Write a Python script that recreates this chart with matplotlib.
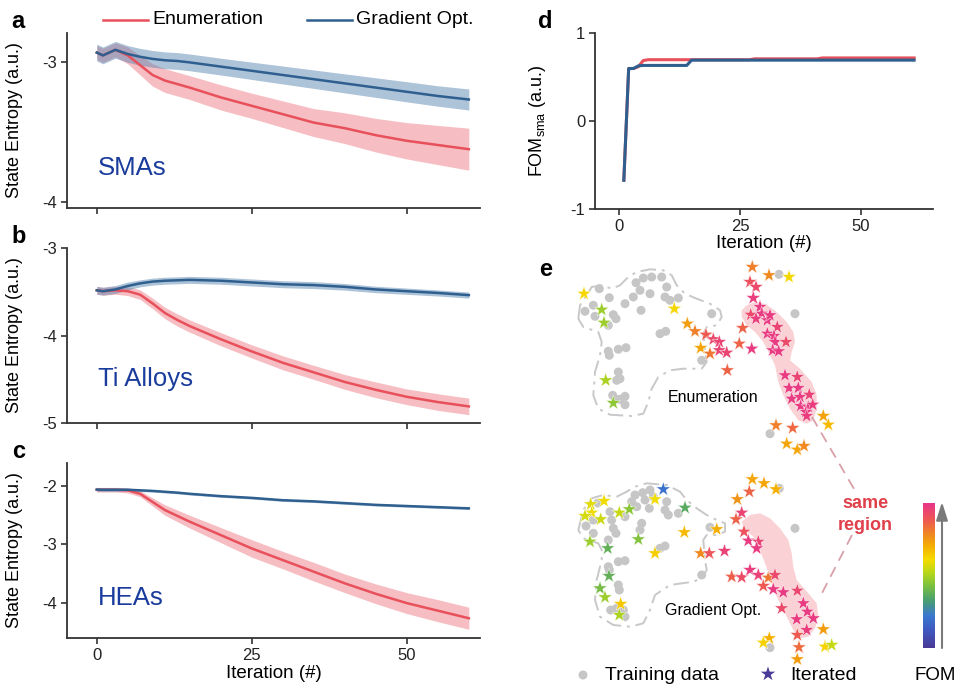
import numpy as np
import matplotlib
matplotlib.use("Agg")
import matplotlib.pyplot as plt
from matplotlib.colors import LinearSegmentedColormap
from matplotlib.lines import Line2D
from matplotlib.patches import Polygon

plt.rcParams['font.family'] = ['Liberation Sans', 'DejaVu Sans']
plt.rcParams['axes.unicode_minus'] = False

# ---------------- data: panels a-c ----------------
iters = [0, 1, 3, 5, 7, 9, 11, 13, 15, 20, 25, 30, 35, 40, 45, 50, 55, 60]

sma_grad = [-2.93, -2.95, -2.91, -2.94, -2.96, -2.975, -2.985, -2.99, -3.0, -3.03, -3.06, -3.09, -3.12, -3.15, -3.18, -3.21, -3.24, -3.265]
sma_grad_sd = [0.06, 0.06, 0.06, 0.06, 0.06, 0.06, 0.06, 0.06, 0.06, 0.06, 0.062, 0.064, 0.066, 0.068, 0.07, 0.072, 0.073, 0.075]
sma_enum = [-2.93, -2.95, -2.91, -2.95, -3.02, -3.09, -3.13, -3.155, -3.18, -3.25, -3.31, -3.37, -3.43, -3.47, -3.52, -3.56, -3.59, -3.62]
sma_enum_sd = [0.05, 0.05, 0.05, 0.06, 0.07, 0.08, 0.085, 0.085, 0.085, 0.09, 0.09, 0.095, 0.10, 0.11, 0.12, 0.13, 0.14, 0.15]

ti_grad = [-3.48, -3.49, -3.47, -3.43, -3.40, -3.38, -3.37, -3.365, -3.36, -3.37, -3.39, -3.41, -3.42, -3.44, -3.47, -3.49, -3.51, -3.535]
ti_grad_sd = [0.045, 0.045, 0.045, 0.045, 0.04, 0.04, 0.04, 0.04, 0.04, 0.04, 0.04, 0.04, 0.04, 0.038, 0.037, 0.036, 0.035, 0.035]
ti_enum = [-3.48, -3.49, -3.48, -3.49, -3.53, -3.63, -3.74, -3.82, -3.89, -4.04, -4.18, -4.31, -4.42, -4.53, -4.62, -4.70, -4.76, -4.81]
ti_enum_sd = [0.045, 0.045, 0.045, 0.05, 0.055, 0.06, 0.065, 0.07, 0.07, 0.075, 0.075, 0.08, 0.08, 0.085, 0.09, 0.09, 0.095, 0.095]

hea_grad = [-2.057, -2.06, -2.06, -2.06, -2.07, -2.08, -2.095, -2.11, -2.13, -2.17, -2.20, -2.24, -2.26, -2.29, -2.32, -2.34, -2.36, -2.38]
hea_grad_sd = [0.03, 0.03, 0.03, 0.025, 0.022, 0.02, 0.02, 0.02, 0.02, 0.02, 0.02, 0.02, 0.02, 0.02, 0.02, 0.02, 0.02, 0.02]
hea_enum = [-2.06, -2.06, -2.06, -2.07, -2.13, -2.27, -2.41, -2.51, -2.61, -2.84, -3.07, -3.27, -3.47, -3.67, -3.85, -4.01, -4.14, -4.27]
hea_enum_sd = [0.04, 0.04, 0.04, 0.045, 0.05, 0.07, 0.09, 0.10, 0.11, 0.13, 0.15, 0.15, 0.16, 0.16, 0.17, 0.18, 0.19, 0.19]

panel_names = ['SMAs', 'Ti Alloys', 'HEAs']
panel_yticks = [[-3, -4], [-3, -4, -5], [-2, -3, -4]]
panel_ylims = [(-4.04, -2.79), (-5.0, -2.995), (-4.61, -1.6)]
xticks_iter = [0, 25, 50]

# ---------------- data: panel d ----------------
d_enum_x = [1, 2, 3, 4, 5, 6, 27, 28, 41, 42, 61]
d_enum_y = [-0.67, 0.60, 0.60, 0.62, 0.69, 0.70, 0.70, 0.71, 0.71, 0.72, 0.72]
d_grad_x = [1, 2, 3, 4, 5, 14, 15, 61]
d_grad_y = [-0.67, 0.60, 0.60, 0.63, 0.635, 0.635, 0.695, 0.695]

# ---------------- data: panel e (map coordinates) ----------------
enum_dot_x = [599.3, 609.3, 585, 593.3, 595, 613.3, 616, 608.3, 625, 633.3, 636, 643.3, 651.7, 661.7, 640, 650, 666.7, 665, 670, 678.3, 641, 711.7, 660, 665.7, 608.3, 609.3, 618.3, 626, 618.3, 616.7, 620, 612.7, 625, 619.3, 625, 701.7, 779, 795, 770]
enum_dot_y = [288.7, 297.7, 311.3, 305.3, 316.3, 314.7, 318.7, 325.3, 303.7, 297, 282.7, 278, 277, 277, 290.3, 293.7, 287, 297, 300.3, 298, 310.3, 313.7, 333.7, 331.3, 351.3, 355.3, 349.3, 347.7, 372, 380.3, 378.7, 395.3, 396.3, 399.3, 404.7, 360.3, 274.3, 313.7, 433.7]

enum_star_x = [584, 674.3, 601.7, 604, 605.7, 613.3,
               687.3, 695, 706, 713.3, 719.3, 700.7, 710, 719.3, 726.7, 727.3, 742.7, 739.3, 751.7,
               752.3, 769, 789, 750, 756, 753.3,
               750.7, 760, 761.7, 756, 767.3, 770, 777.3, 767.3, 774, 775, 786, 772.7, 778.7, 785, 797.3,
               789, 798.3, 791.7, 800, 809.3, 800.7, 808.3, 812.7, 806, 806.7,
               823.3, 828.3, 776, 792.7, 786.7, 797.3, 804]
enum_star_y = [293.7, 308.7, 309.7, 322.7, 380.3, 403,
               323.7, 331.3, 334.7, 339.3, 342, 348, 353.7, 350.3, 352.7, 370.3, 328, 343.7, 348.7,
               267, 275.3, 277, 282, 287, 298,
               314.7, 307, 313.7, 318.7, 320.3, 315.3, 327, 333.7, 336, 342, 342, 350.3, 351.3, 375.3, 377,
               388, 388, 398.7, 397, 394.7, 406, 407, 404.7, 412, 416,
               416, 424.7, 425.3, 428, 443.7, 449.7, 446]
enum_star_fom = [0.62, 0.62, 0.48, 0.48, 0.50, 0.46,
                 0.74, 0.80, 0.88, 0.93, 0.95, 0.72, 0.82, 0.95, 0.95, 0.86, 0.86, 0.86, 0.98,
                 0.80, 0.78, 0.62, 0.91, 0.93, 0.97,
                 0.93, 0.98, 0.98, 0.97, 0.98, 0.98, 0.95, 0.98, 0.98, 0.98, 0.93, 0.98, 0.98, 0.98, 0.95,
                 0.98, 0.98, 0.98, 0.98, 0.96, 0.98, 0.98, 0.97, 0.98, 0.97,
                 0.73, 0.68, 0.80, 0.85, 0.72, 0.72, 0.78]

grad_dot_x = [635, 642.7, 650, 653.3, 645, 666.7, 631.7, 636.7, 649.3, 610, 611.7, 593.3, 586, 593.3, 625, 613.3, 616, 641.7, 640, 665, 668.3, 678.3, 608.3, 660, 665, 618.3, 625, 608.3, 609.3, 618.3, 619.3, 610.7, 616.7, 623.3, 625, 710, 701.7, 779.3, 795, 770, 598]
grad_dot_y = [495, 492.7, 490, 496.7, 500, 501.7, 501.7, 506.7, 508.3, 511.7, 520, 520, 526, 533.3, 516.7, 528.3, 533.3, 523.3, 530, 510, 515, 513.3, 540, 548.3, 546, 561.7, 560.7, 566.7, 570, 585, 590, 610, 608.3, 610, 616.7, 527.3, 575, 488.3, 528.3, 647.7, 503]

grad_star_x = [663.3, 590.7, 604, 591.7, 585, 600.7, 655, 619.3, 629.3, 685, 590, 638.3, 607.7, 684.3, 655, 716.7, 700.7, 709.3, 724.5, 609, 600, 605, 620.7, 619.3,
               752.3, 764, 776, 749.3, 737.3, 741.7, 736, 744, 748.3, 758.3, 756.7, 731.7, 741.7, 750, 758.3, 768.3, 775, 763.3, 773.3, 783.3, 797.3,
               781.7, 803.3, 807.3, 796.7, 813.3, 806.7, 797.3, 799, 797.3, 823.3, 769.3, 763.3, 825, 831.7]
grad_star_y = [489.3, 504.3, 501, 512.7, 516, 519.3, 499.3, 512.7, 509.3, 507.7, 541.7, 539.3, 548.3, 532.3, 553.3, 529.3, 553.3, 553.3, 551, 576, 588.3, 597.3, 604, 615,
               479.3, 483.3, 489.3, 491.7, 499.3, 512.7, 519.3, 531.7, 540.7, 541.7, 548.3, 576.7, 577.3, 570, 575, 577.7, 575, 586, 589.3, 592.3, 590.7,
               608.3, 603.3, 611.7, 619.3, 618.3, 630, 635, 647.3, 659.3, 629.3, 638.3, 642.7, 646.7, 645]
grad_star_fom = [0.20, 0.58, 0.60, 0.60, 0.56, 0.55, 0.60, 0.54, 0.45, 0.36, 0.48, 0.44, 0.38, 0.68, 0.64, 0.70, 0.78, 0.90, 0.96, 0.38, 0.42, 0.48, 0.65, 0.50,
                 0.72, 0.72, 0.70, 0.86, 0.76, 0.95, 0.86, 0.91, 0.98, 0.95, 0.98, 0.87, 0.92, 0.97, 0.96, 0.82, 0.93, 0.88, 0.98, 0.98, 0.94,
                 0.93, 0.98, 0.98, 0.98, 0.98, 0.97, 0.88, 0.84, 0.74, 0.74, 0.70, 0.63, 0.63, 0.54]

enum_outline_x = [578.3, 580, 586.7, 591.7, 601.7, 611.7, 620, 628.3, 636.7, 650, 663.3, 671.7, 676.7, 685, 696.7, 710, 720, 721.7, 716.7, 706.7, 703.3, 705, 706.7, 701.7, 683.3, 670, 658.3, 651.7, 648.3, 643.3, 631.7, 610, 598.3, 593.3, 595, 600, 601.7, 598.3, 583.3, 578.3]
enum_outline_y = [318.7, 305.3, 295.3, 287, 285.3, 288.7, 285.3, 277, 272, 269.3, 270.3, 275.3, 285.3, 293.7, 298.7, 303.7, 310.3, 317, 325.3, 327, 333.7, 348.7, 362, 368.7, 368.7, 370.3, 377, 388.7, 402, 413.7, 416, 414.7, 408.7, 395.3, 372, 355.3, 342, 332, 327, 318.7]
grad_outline_x = [578.3, 583.3, 591.7, 603.3, 616.7, 626.7, 635, 646.7, 666.7, 680, 686.7, 696.7, 706.7, 716.7, 725, 725, 716.7, 706.7, 703.3, 705, 706.7, 701.7, 693.3, 670, 655, 650, 643.3, 630, 613.3, 600, 595, 596.7, 601.7, 601.7, 598.3, 583.3, 578.3]
grad_outline_y = [530, 510, 498.3, 495, 496.7, 491.7, 486.7, 483.3, 485, 491.7, 500, 508.3, 515, 520, 523.3, 531.7, 535, 535, 540, 560, 570, 578.3, 581.7, 585, 595, 610, 623.3, 626.7, 625, 616.7, 600, 580, 560, 550, 543.3, 538.3, 530]

enum_region_x = [741.7, 746.7, 756.7, 766.7, 776.7, 786.7, 793.3, 795, 791.7, 790, 800, 811.7, 816.7, 816.7, 813.3, 806.7, 798.3, 790, 783.3, 778.3, 775, 770, 763.3, 755, 746.7, 741.7]
enum_region_y = [310.3, 305.3, 301.3, 304.7, 312, 322, 332, 342, 352, 360.3, 368.7, 382, 395.3, 408.7, 420.3, 423.7, 420.3, 408.7, 395.3, 382, 365.3, 355.3, 342, 332, 325.3, 317]
grad_region_x = [741.7, 750, 760, 770, 780, 788.3, 791.7, 793.3, 796.7, 808.3, 816.7, 818.3, 815, 808.3, 800, 793.3, 786.7, 780, 773.3, 770, 765, 760, 753.3, 745]
grad_region_y = [521.7, 515, 513.3, 518.3, 528.3, 540, 553.3, 566.7, 580, 593.3, 603.3, 616.7, 628.3, 636.7, 638.3, 630, 616.7, 603.3, 590, 576.7, 563.3, 550, 536.7, 530]

link_x = [812, 857, np.nan, 852, 820]
link_y = [417, 494, np.nan, 535, 597]

fom_colors = ['#4b3a96', '#4058c0', '#3a78d0', '#4aa070', '#7cc040', '#b8d81a',
              '#f5dc00', '#f5b000', '#f08a20', '#ee5a50', '#e8358a']
fom_stops = [0.0, 0.12, 0.22, 0.33, 0.43, 0.52, 0.61, 0.70, 0.78, 0.88, 1.0]

# ---------------- style ----------------
RED = '#e8505b'
RED_FILL = '#ee7d87'
BLUE = '#2f5f8f'
BLUE_FILL = '#5d88b3'
SPINE = '#333333'
LABEL_BLUE = '#1a3c9c'

W, H = 956, 685
fig = plt.figure(figsize=(W / 100, H / 100), dpi=100)


def fax(l, t, r, b):
    return fig.add_axes([l / W, 1 - b / H, (r - l) / W, (b - t) / H])


def style_axes(ax):
    for s in ['top', 'right']:
        ax.spines[s].set_visible(False)
    for s in ['left', 'bottom']:
        ax.spines[s].set_color(SPINE)
        ax.spines[s].set_linewidth(1.3)
    ax.tick_params(direction='out', length=4, width=1.2, color=SPINE,
                   labelsize=12, labelcolor='#222222', pad=3)


series = [(sma_enum, sma_enum_sd, sma_grad, sma_grad_sd),
          (ti_enum, ti_enum_sd, ti_grad, ti_grad_sd),
          (hea_enum, hea_enum_sd, hea_grad, hea_grad_sd)]
tops = [33, 248, 463]
it = np.array(iters)
for i, (en, ens, gr, grs) in enumerate(series):
    ax = fax(67, tops[i], 480, tops[i] + 175)
    style_axes(ax)
    en, ens, gr, grs = map(np.array, (en, ens, gr, grs))
    ax.fill_between(it, en - ens, en + ens, color=RED_FILL, alpha=0.5, lw=0)
    ax.fill_between(it, gr - grs, gr + grs, color=BLUE_FILL, alpha=0.5, lw=0)
    ax.plot(it, en, color=RED, lw=1.8)
    ax.plot(it, gr, color=BLUE, lw=1.8)
    ax.set_xlim(-4.8, 61.8)
    ax.set_ylim(*panel_ylims[i])
    ax.set_yticks(panel_yticks[i])
    ax.set_yticklabels([str(v) for v in panel_yticks[i]])
    ax.set_xticks(xticks_iter)
    if i < 2:
        ax.set_xticklabels([])
    else:
        ax.set_xticklabels([str(v) for v in xticks_iter])
        ax.set_xlabel('Iteration (#)', fontsize=13.5, labelpad=2)
    ax.set_ylabel('State Entropy (a.u.)', fontsize=13)
    ax.yaxis.set_label_coords(-0.107, 0.5)
    ax.text(0.075, 0.23 if i != 1 else 0.25, panel_names[i], transform=ax.transAxes,
            fontsize=18.5, color=LABEL_BLUE, va='center', ha='left')

# panel letters
for letter, (x, y) in zip(['a', 'b', 'c', 'd', 'e'],
                          [(18, 22), (19, 236), (19, 452), (545, 21), (546, 270)]):
    fig.text(x / W, 1 - y / H, letter, fontsize=17, fontweight='bold',
             ha='center', va='center')

# top legend
for (x0, x1, c, lab) in [(103, 148, RED, 'Enumeration'), (307, 352, BLUE, 'Gradient Opt.')]:
    fig.add_artist(Line2D([x0 / W, x1 / W], [1 - 20 / H, 1 - 20 / H], color=c, lw=1.8))
    fig.text((x1 + 4) / W, 1 - 20 / H, lab, fontsize=14, va='center', ha='left')

# ---------------- panel d ----------------
axd = fax(595, 33.3, 933, 209.3)
style_axes(axd)
axd.plot(d_enum_x, d_enum_y, color=RED, lw=2.2)
axd.plot(d_grad_x, d_grad_y, color=BLUE, lw=2.2)
axd.set_xlim(-4.96, 64.9)
axd.set_ylim(-1, 1)
axd.set_yticks([1, 0, -1])
axd.set_yticklabels(['1', '0', '-1'])
axd.set_xticks(xticks_iter)
axd.set_xticklabels([str(v) for v in xticks_iter])
axd.set_xlabel('Iteration (#)', fontsize=13.5, labelpad=1)
axd.set_ylabel(r'FOM$_{\mathregular{sma}}$ (a.u.)', fontsize=13)
axd.yaxis.set_label_coords(-0.139, 0.5)

# ---------------- panel e ----------------
cmap = LinearSegmentedColormap.from_list('fom', list(zip(fom_stops, fom_colors)))
axe = fax(560, 255, 956, 685)
axe.set_xlim(560, 956)
axe.set_ylim(685, 255)
axe.axis('off')
axe.patch.set_alpha(0)

for rx, ry in [(enum_region_x, enum_region_y), (grad_region_x, grad_region_y)]:
    axe.add_patch(Polygon(np.column_stack([rx, ry]), closed=True,
                          facecolor='#f9c3c7', alpha=0.75, edgecolor='none', zorder=1))
for ox, oy in [(enum_outline_x, enum_outline_y), (grad_outline_x, grad_outline_y)]:
    axe.plot(ox, oy, color='#c8c8c8', lw=1.4, ls=(0, (8, 3, 1.5, 3)), zorder=1.5)

axe.scatter(enum_dot_x, enum_dot_y, s=42, color='#c6c6c6', edgecolors='none', zorder=2)
axe.scatter(grad_dot_x, grad_dot_y, s=42, color='#c6c6c6', edgecolors='none', zorder=2)
axe.scatter(enum_star_x, enum_star_y, c=enum_star_fom, cmap=cmap, vmin=0, vmax=1,
            marker='*', s=120, edgecolors='white', linewidths=0.3, zorder=3)
axe.scatter(grad_star_x, grad_star_y, c=grad_star_fom, cmap=cmap, vmin=0, vmax=1,
            marker='*', s=120, edgecolors='white', linewidths=0.3, zorder=3)

axe.plot(link_x, link_y, color='#d9a0a8', lw=1.3, ls=(0, (6, 4)), zorder=1)
axe.text(865, 503, 'same', color='#e0404a', fontsize=13, fontweight='bold',
         ha='center', va='center')
axe.text(865, 526, 'region', color='#e0404a', fontsize=13, fontweight='bold',
         ha='center', va='center')
axe.text(713, 397, 'Enumeration', fontsize=11.5, ha='center', va='center', zorder=4)
axe.text(713, 611, 'Gradient Opt.', fontsize=11.5, ha='center', va='center', zorder=4)

# legend of panel e
axe.scatter([583], [675], s=42, color='#c6c6c6', edgecolors='none')
axe.text(605, 675, 'Training data', fontsize=14, va='center', ha='left')
axe.scatter([768], [674], s=120, marker='*', color=cmap(0.0), edgecolors='none')
axe.text(790, 675, 'Iterated', fontsize=14, va='center', ha='left')
axe.text(935, 675, 'FOM', fontsize=13.5, va='center', ha='center')

# colour bar and arrow
axc = fax(923, 503, 935, 648)
axc.imshow(np.linspace(1, 0, 256).reshape(-1, 1), cmap=cmap, aspect='auto',
           extent=[0, 1, 0, 1])
axc.axis('off')
axe.annotate('', xy=(942, 502), xytext=(942, 648),
             arrowprops=dict(arrowstyle='-|>,head_width=0.35,head_length=1.1',
                             color='#7a7a7a', lw=1.5, shrinkA=0, shrinkB=0))

fig.savefig('out.png', dpi=100)
